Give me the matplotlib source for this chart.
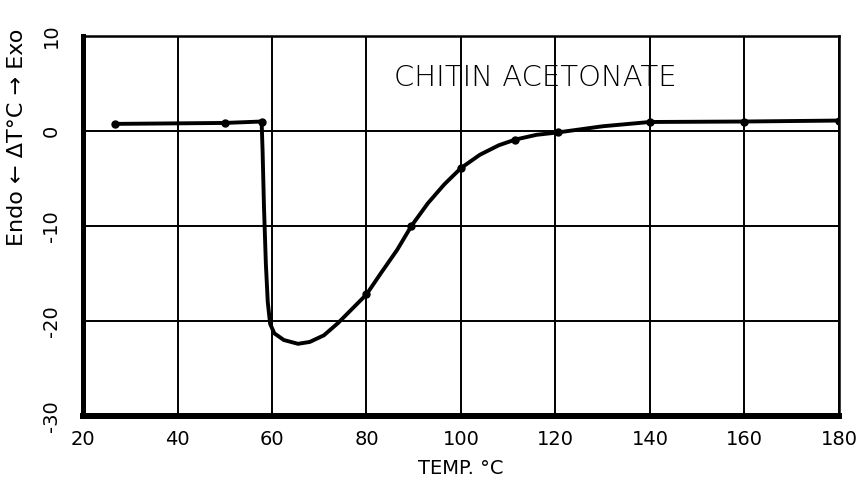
import matplotlib
matplotlib.use("Agg")
import matplotlib.pyplot as plt

# Curve (temperature in °C, ΔT)
curve_x = [26.8, 50.0, 57.8, 58.0, 58.3, 58.7, 59.1, 59.6, 60.5, 62.5, 65.5, 68.0,
           71.0, 74.0, 77.0, 80.0, 83.0, 86.5, 89.5, 93.0, 96.5, 100.0, 104.0,
           108.0, 111.5, 116.0, 120.5, 130.0, 140.0, 160.0, 180.0]
curve_y = [0.75, 0.85, 1.0, -2.0, -8.0, -14.0, -18.0, -20.3, -21.3, -22.0, -22.4, -22.2,
           -21.5, -20.2, -18.7, -17.2, -15.0, -12.5, -10.0, -7.6, -5.6, -3.9, -2.5,
           -1.5, -0.9, -0.4, -0.15, 0.5, 0.95, 1.0, 1.1]

# Measured points (dots)
pts_x = [26.8, 50.0, 57.8, 80.0, 89.5, 100.0, 111.5, 120.5, 140.0, 160.0, 180.0]
pts_y = [0.75, 0.85, 1.0, -17.2, -10.0, -3.9, -0.9, -0.15, 0.95, 1.0, 1.1]

x_ticks = [20, 40, 60, 80, 100, 120, 140, 160, 180]
y_ticks = [-30, -20, -10, 0, 10]
y_tick_labels = ["-30", "-20", "-10", "0", "10"]

title_text = "CHITIN ACETONATE"
x_label = "TEMP. °C"
y_label = "Endo ← ΔT°C → Exo"

fig = plt.figure(figsize=(8.57, 4.88), dpi=100)
ax = fig.add_axes([0.0969, 0.1475, 0.882, 0.7787])

ax.plot(curve_x, curve_y, color="black", lw=2.8, solid_capstyle="round",
        solid_joinstyle="round", zorder=3)
ax.plot(pts_x, pts_y, "o", color="black", ms=5, zorder=4)

ax.set_xlim(20, 180)
ax.set_ylim(-30, 10)
ax.set_xticks(x_ticks)
ax.set_yticks(y_ticks)
ax.set_yticklabels(y_tick_labels, rotation=90, va="center")
ax.tick_params(axis="both", length=0, labelsize=14)
ax.tick_params(axis="y", pad=16)
ax.tick_params(axis="x", pad=10)

ax.grid(True, color="black", lw=1.4)
ax.set_axisbelow(True)

ax.spines["left"].set_linewidth(3.6)
ax.spines["bottom"].set_linewidth(4.3)
ax.spines["top"].set_linewidth(1.8)
ax.spines["right"].set_linewidth(1.8)

ax.text(0.599, 0.889, title_text, transform=ax.transAxes, ha="center",
        va="center", fontsize=21, fontweight="light")

ax.set_xlabel(x_label, fontsize=14, labelpad=7)
ax.text(-0.088, 0.734, y_label, transform=ax.transAxes, rotation=90,
        ha="center", va="center", fontsize=16)

fig.savefig("out.png", dpi=100, facecolor="white")
